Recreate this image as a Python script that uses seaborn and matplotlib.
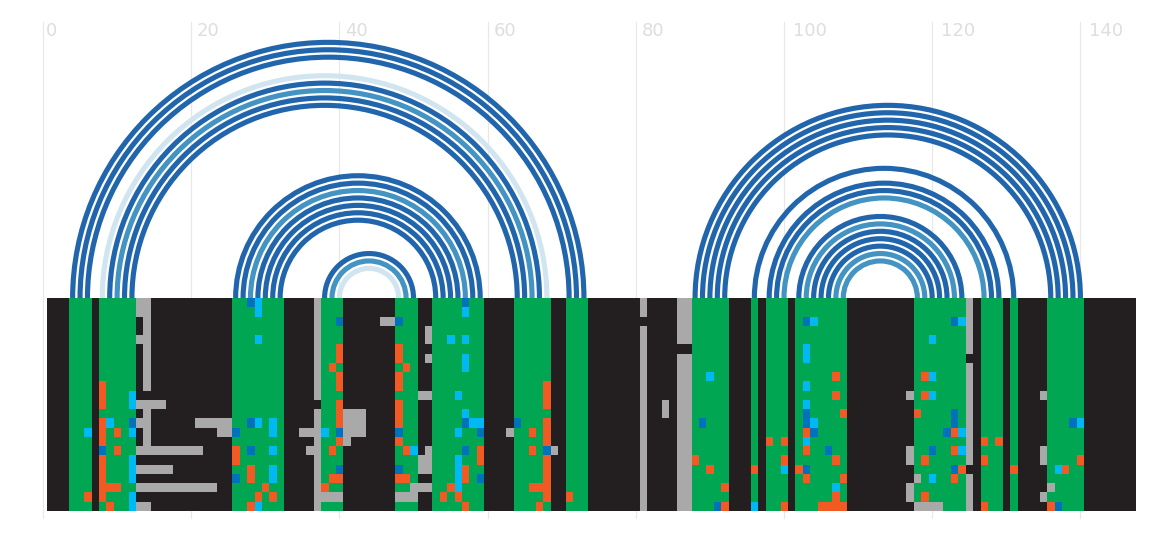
import numpy as np
import seaborn as sns
import matplotlib.pyplot as plt
from matplotlib.colors import ListedColormap
from matplotlib.patches import Arc

# base pairs as (left column, right column), 1-based alignment columns
pairs_left = [4, 5, 6, 8, 9, 10, 11, 12,
              26, 27, 28, 29, 30, 31, 32,
              38, 39, 40,
              88, 89, 90, 91, 92, 96, 98, 99, 100,
              102, 103, 104, 105, 106, 107, 108]
pairs_right = [73, 72, 71, 68, 67, 66, 65, 64,
               59, 58, 57, 56, 55, 54, 53,
               50, 49, 48,
               140, 139, 138, 137, 136, 131, 129, 128, 127,
               124, 123, 122, 121, 120, 119, 118]
# covariation class of each pair: 0 strong, 1 medium, 2 weak
pair_class = [0, 0, 0, 2, 0, 1, 0, 0,
              0, 0, 1, 0, 0, 0, 0,
              0, 1, 2,
              0, 0, 0, 0, 0, 0, 0, 0, 1,
              0, 1, 0, 0, 0, 1, 1]

tick_values = [0, 20, 40, 60, 80, 100, 120, 140]

n_rows = 23
n_cols = 147

# columns that are gapped over many sequences: column -> rows
gray_columns = {
    14: list(range(0, 10)) + [11, 12, 13, 14, 15, 16],
    37: list(range(0, 11)) + list(range(12, 23)),
    81: [0, 1] + list(range(3, 23)),
    84: [11, 12],
    86: list(range(0, 5)) + list(range(6, 23)),
    87: list(range(0, 5)) + list(range(6, 23)),
    125: list(range(0, 6)) + list(range(7, 18)) + list(range(19, 23)),
}
# remaining gaps: row -> columns
gray_cells = {
    0: [13], 1: [13], 2: [46, 47], 3: [52], 4: [13, 52], 6: [52],
    10: [51, 52, 117, 135],
    11: [13, 15, 16],
    12: [41, 42, 43],
    13: [13, 21, 22, 23, 24, 25, 41, 42, 43],
    14: [24, 25, 35, 36, 41, 42, 43, 63],
    15: [41],
    16: [13, 15, 16, 17, 18, 19, 20, 21, 36, 52, 69, 117, 135],
    17: [51, 52, 117, 135],
    18: [13, 14, 15, 16, 17, 51, 52],
    19: [118],
    20: [13, 14, 15, 16, 17, 18, 19, 20, 21, 22, 23, 50, 51, 52, 117, 136],
    21: [38, 39, 40, 48, 49, 50, 117, 135],
    22: [13, 14, 118, 119, 120, 121],
}
orange_cells = {
    5: [40, 48], 6: [40, 48], 7: [39, 49],
    8: [40, 48, 107, 119],
    9: [8, 40, 48, 68],
    10: [8, 68, 107, 119],
    11: [8, 40, 48, 68],
    12: [40, 48, 108, 118],
    13: [8, 40, 48, 68],
    14: [8, 10, 66, 68, 103, 123],
    15: [8, 40, 48, 68, 98, 100, 127, 129],
    16: [10, 26, 39, 49, 59, 66, 103, 123],
    17: [8, 26, 59, 68, 88, 100, 107, 119, 127, 140],
    18: [8, 28, 57, 68, 90, 96, 102, 124, 131, 138],
    19: [8, 28, 39, 40, 48, 49, 57, 68, 103, 108, 123],
    20: [8, 9, 10, 30, 38, 55, 66, 67, 68, 92],
    21: [6, 8, 29, 31, 54, 56, 68, 71, 107, 119],
    22: [9, 28, 57, 67, 92, 100, 105, 106, 107, 108, 127, 136],
}
cyan_cells = {
    0: [29], 1: [29, 57],
    2: [104, 124],
    4: [29, 55, 57, 120],
    5: [103], 6: [57, 103], 7: [57],
    8: [90, 120],
    9: [103],
    10: [12, 56, 120],
    11: [12, 103],
    12: [57],
    13: [9, 29, 31, 58, 59, 104, 140],
    14: [6, 12, 31, 38, 56, 124],
    15: [103],
    16: [31, 50, 124],
    17: [12, 56],
    18: [12, 31, 56, 100, 137],
    19: [12, 31, 56, 120],
    20: [56, 107],
    21: [12],
    22: [12, 29, 96],
}
blue_cells = {
    0: [28, 57],
    2: [40, 48, 103, 123],
    12: [103, 123],
    13: [12, 28, 57, 64, 89, 103, 123, 139],
    14: [26, 40, 48, 59, 104, 122],
    16: [8, 28, 57, 68, 106, 120],
    18: [40, 48, 103, 123],
    19: [26, 59],
    22: [91, 137],
}

# dark, green, gray, orange, cyan, blue
cell_colors = ['#231f20', '#00a651', '#a9a9a9', '#f15a22', '#00b9f2', '#0072bc']
arc_colors = ['#2166ac', '#4393c3', '#d1e5f0']

# fill the alignment
matrix = np.zeros((n_rows, n_cols), dtype=int)
for col in pairs_left + pairs_right:
    matrix[:, col - 1] = 1
for col, rows in gray_columns.items():
    matrix[rows, col - 1] = 2
for code, cells in [(2, gray_cells), (3, orange_cells), (4, cyan_cells), (5, blue_cells)]:
    for row, cols in cells.items():
        for col in cols:
            matrix[row, col - 1] = code

sns.set_style('white')
fig = plt.figure(figsize=(11.76, 5.38), dpi=100)

# pixel placement of the sequence axis and the baseline
unit = 7.41
x_zero = 43.0
base_y = 298

ax = fig.add_axes([0, 0, 1, 1])
ax.set_xlim(-x_zero / unit, (1176 - x_zero) / unit)
ax.set_ylim(-(538 - base_y) / unit, base_y / unit)
ax.axis('off')

for t in tick_values:
    ax.plot([t, t], [(base_y - 518) / unit, (base_y - 22) / unit], color='#e8e8e8', lw=0.9, zorder=1)
    # longer labels sit further from their line
    label_gap = (3 * len(str(t)) - 0.2) / unit
    ax.text(t + label_gap, (base_y - 31) / unit, str(t), color='#dedede', fontsize=13,
            ha='left', va='center', family='DejaVu Sans')

for left, right, cls in zip(pairs_left, pairs_right, pair_class):
    ax.add_patch(Arc(((left + right) / 2, 0), right - left, right - left, theta1=0, theta2=180,
                     color=arc_colors[cls], lw=3.7, zorder=2))

# alignment below the arcs
heat_ax = fig.add_axes([47.1 / 1176, (538 - 511) / 538, 1089 / 1176, 213 / 538])
sns.heatmap(matrix, cmap=ListedColormap(cell_colors), vmin=0, vmax=5, cbar=False,
            xticklabels=False, yticklabels=False, ax=heat_ax)

fig.savefig('out.png', dpi=100)
